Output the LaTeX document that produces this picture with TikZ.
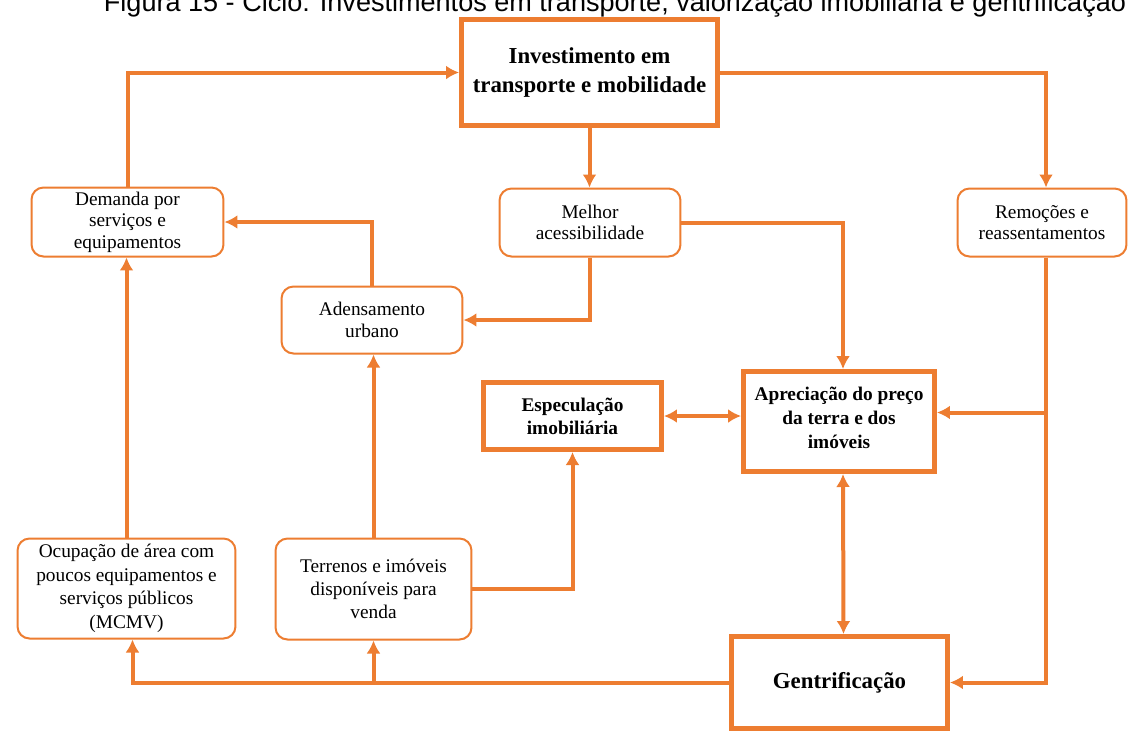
\documentclass[tikz,border=0pt]{standalone}
\usepackage{fontspec}
\setmainfont{Liberation Serif}
\newfontfamily\titlefont{Liberation Sans}
\definecolor{laranja}{HTML}{ED7D31}
\usetikzlibrary{arrows.meta, positioning, calc}

\begin{document}
\begin{tikzpicture}[x = 0.02cm, y = -0.02cm,
  caixa/.style = {rectangle, draw = laranja, line width = 0.4mm, rounded corners = 2.4mm, fill = white, align = center, inner sep = 0pt, font = \fontsize{11}{12.2}\selectfont},
  caixaforte/.style = {rectangle, draw = laranja, line width = 1mm, fill = white, align = center, inner sep = 0pt},
  seta/.style = {-{Latex[length=2.6mm, width=2.8mm]}, draw = laranja, line width = 0.8mm},
  setadupla/.style = {{Latex[length=2.6mm, width=2.8mm]}-{Latex[length=2.6mm, width=2.8mm]}, draw = laranja, line width = 0.8mm}]
\useasboundingbox (0,0) rectangle (1129,731);
\fill[white] (0,0) rectangle (1129,731);
\node[anchor = base, font = \titlefont\fontsize{15.4}{18}\selectfont] (titulo) at (615,11) {Figura 15 - Ciclo: Investimentos em transporte, valorização imobiliária e gentrificação};
% caixas
\node[caixaforte, minimum width = 5.12cm, minimum height = 2.12cm, font = \fontsize{13}{16}\selectfont\bfseries] (invest) at (589.5,72.5) {Investimento em\\transporte e mobilidade};
\node[caixa, minimum width = 3.62cm, minimum height = 1.36cm] (melhor) at (590,222.5) {Melhor\\acessibilidade};
\node[caixa, minimum width = 3.84cm, minimum height = 1.38cm] (demanda) at (127.5,222) {Demanda por\\serviços e\\equipamentos};
\node[caixa, minimum width = 3.38cm, minimum height = 1.36cm] (remocoes) at (1042,222.5) {Remoções e\\reassentamentos};
\node[caixa, minimum width = 3.62cm, minimum height = 1.34cm] (adensamento) at (372,320) {Adensamento\\urbano};
\node[caixaforte, minimum width = 3.56cm, minimum height = 1.34cm, font = \fontsize{11}{13}\selectfont\bfseries] (especulacao) at (572.5,416) {Especulação\\imobiliária};
\node[caixaforte, minimum width = 3.82cm, minimum height = 2.0cm, font = \fontsize{11}{13.6}\selectfont\bfseries] (apreciacao) at (839,421.5) {Apreciação do preço\\da terra e dos\\imóveis\vspace{4pt}};
\node[caixa, minimum width = 4.36cm, minimum height = 2.0cm, font = \fontsize{11}{13.4}\selectfont] (ocupacao) at (126.5,588.5) {Ocupação de área com\\poucos equipamentos e\\serviços públicos\\(MCMV)};
\node[caixa, minimum width = 3.92cm, minimum height = 2.02cm, font = \fontsize{11}{13.2}\selectfont] (terrenos) at (373.5,589) {Terrenos e imóveis\\disponíveis para\\venda};
\node[caixaforte, minimum width = 4.32cm, minimum height = 1.84cm, font = \fontsize{13}{15}\selectfont\bfseries] (gentrif) at (839.5,682.5) {Gentrificação};
\coordinate (entrada) at ($(apreciacao.east)+(0,-9)$);
% setas
\draw[seta] (demanda.north) |- (invest.west);
\draw[seta] (invest.south) -- (invest.south |- melhor.north);
\draw[seta] (invest.east) -| ([xshift=4*0.02cm]remocoes.north);
\draw[seta] (melhor.south) |- (adensamento.east);
\draw[seta] (melhor.east) -| ([xshift=4*0.02cm]apreciacao.north);
\draw[seta] ([xshift=4*0.02cm]remocoes.south) |- (gentrif.east);
\draw[seta] ([xshift=4*0.02cm]remocoes.south |- entrada) -- (entrada);
\draw[seta] (adensamento.north) |- (demanda.east);
\draw[seta] (terrenos.north) -- (terrenos.north |- adensamento.south);
\draw[seta] (terrenos.east) -| (especulacao.south);
\draw[setadupla] (especulacao.east) -- (especulacao.east -| apreciacao.west);
\draw[setadupla] ([xshift=4*0.02cm]apreciacao.south) -- ([xshift=4*0.02cm]gentrif.north);
\draw[seta] (gentrif.west) -| ([xshift=6*0.02cm]ocupacao.south);
\draw[seta] (gentrif.west -| terrenos.south) -- (terrenos.south);
\draw[seta] (ocupacao.north) -- (ocupacao.north |- demanda.south);
\end{tikzpicture}
\end{document}
